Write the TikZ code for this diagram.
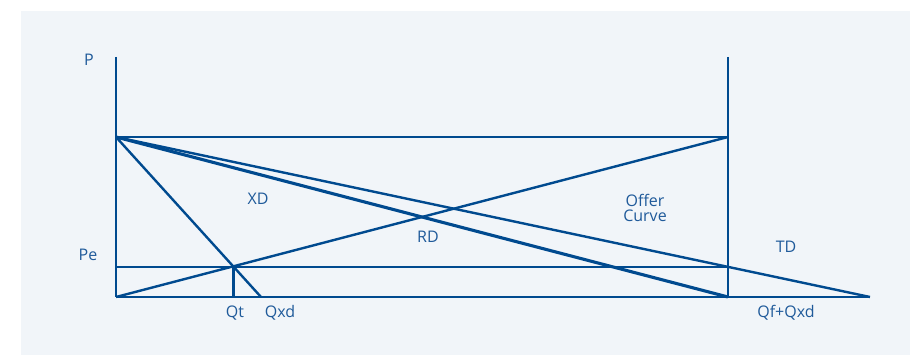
\documentclass[tikz,border=0pt]{standalone}
\usepackage{fontspec}
\setmainfont{Open Sans}
\definecolor{linec}{HTML}{004A8F}
\definecolor{textc}{HTML}{1F5A9A}
\definecolor{panel}{HTML}{F1F5F9}
\tikzset{
  ln/.style={draw=linec, line width=2.4pt},
  lnb/.style={draw=linec, line width=3.1pt},
  lbl/.style={text=textc, font=\fontsize{16}{18}\selectfont, inner sep=0pt, align=center}
}
\begin{document}
\begin{tikzpicture}[x=1pt,y=-1pt]
\useasboundingbox (0,0) rectangle (910,355);
\fill[white] (0,0) rectangle (910,355);
\fill[panel] (21,11) rectangle (910,355);
% points
\coordinate (ytop) at (116,57);
\coordinate (A) at (116,137);
\coordinate (O) at (116,297);
\coordinate (Pe0) at (116,267);
\coordinate (rtop) at (728,57);
\coordinate (C) at (728,137);
\coordinate (D) at (728,267);
\coordinate (B) at (728,297);
\coordinate (E) at (870,297);
\coordinate (T) at (233.3,267);
\coordinate (Tq) at (233.3,297);
\coordinate (X) at (261,297);
% axes and frame
\draw[ln] (ytop) -- (O);
\draw[ln] (rtop) -- (B);
\draw[ln] (A) -- (C);
\draw[ln] (O) -- (E);
\draw[ln] (Pe0) -- (D);
\draw[ln] (T) -- (Tq);
% curves
\draw[ln] (A) -- (X);
\draw[ln] (O) -- (C);
\draw[lnb] (A) -- (B);
\draw[ln] (A) -- (E);
% labels
\node[lbl] (lP) at (89,60) {P};
\node[lbl] (lPe) at (88,255) {Pe};
\node[lbl] (lQt) at (235,313) {Qt};
\node[lbl] (lQxd) at (280,313) {Qxd};
\node[lbl] (lXD) at (258,199) {XD};
\node[lbl] (lRD) at (428,237) {RD};
\node[lbl] (lOC) at (645,208) {Offer\\[-3pt]Curve};
\node[lbl] (lTD) at (786,247) {TD};
\node[lbl] (lQf) at (786,313) {Qf+Qxd};
\end{tikzpicture}
\end{document}
